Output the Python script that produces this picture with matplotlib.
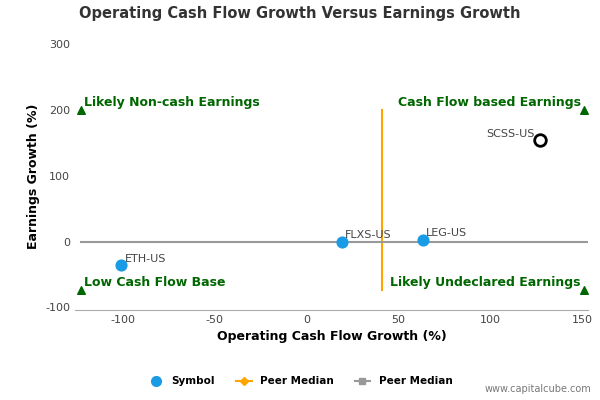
import matplotlib
matplotlib.use("Agg")
import matplotlib.pyplot as plt
from matplotlib.lines import Line2D

plt.rcParams["axes.unicode_minus"] = False

symbols = ["ETH-US", "FLXS-US", "LEG-US"]
cash_growth = [-101, 19, 63]
earn_growth = [-36, 0, 3]
focus_name = "SCSS-US"
focus_x, focus_y = 127, 154
peer_median_x = 41
peer_median_y = 0
y_lo, y_hi = -73, 200
x_lo, x_hi = -123, 151

fig = plt.figure(figsize=(6, 4), dpi=100)
ax = fig.add_axes([0.125, 0.225, 0.855, 0.668])

green = "#006600"
ax.plot([peer_median_x, peer_median_x], [y_lo, y_hi], color="#ffa500", lw=1.5, zorder=2)
ax.plot([x_lo, 153], [peer_median_y, peer_median_y], color="#999999", lw=1.5, zorder=2)
ax.scatter(cash_growth, earn_growth, s=60, color="#1a9be6", zorder=3)
ax.scatter([focus_x], [focus_y], s=70, facecolor="white", edgecolor="black", lw=2, zorder=3)
for n, x, y in zip(symbols, cash_growth, earn_growth):
    ax.text(x + 2, y + 5, n, fontsize=8, color="#444444")
ax.text(focus_x - 3, focus_y + 5, focus_name, fontsize=8, color="#444444", ha="right")

ax.scatter([x_lo, x_lo, x_hi, x_hi], [y_hi, y_lo, y_hi, y_lo], marker="^", color=green, s=30, zorder=3)
kw = dict(fontsize=9, color=green, fontweight="bold")
ax.text(x_lo + 2, y_hi + 6, "Likely Non-cash Earnings", ha="left", **kw)
ax.text(x_hi - 2, y_hi + 6, "Cash Flow based Earnings", ha="right", **kw)
ax.text(x_lo + 2, y_lo + 6, "Low Cash Flow Base", ha="left", **kw)
ax.text(x_hi - 2, y_lo + 6, "Likely Undeclared Earnings", ha="right", **kw)

ax.set_xlim(-126, 153)
ax.set_ylim(-104, 302)
ax.set_xticks([-100, -50, 0, 50, 100, 150])
ax.set_yticks([-100, 0, 100, 200, 300])
ax.tick_params(labelsize=8, colors="#444444", length=0)
for s in ["top", "right", "left"]:
    ax.spines[s].set_visible(False)
ax.spines["bottom"].set_color("#aaaaaa")
ax.set_xlabel("Operating Cash Flow Growth (%)", fontsize=9, fontweight="bold")
ax.set_ylabel("Earnings Growth (%)", fontsize=9, fontweight="bold")
fig.text(0.5, 0.955, "Operating Cash Flow Growth Versus Earnings Growth", ha="center",
         fontsize=10.5, fontweight="bold", color="#333333")

handles = [
    Line2D([], [], marker="o", color="#1a9be6", ls="none", markersize=7),
    Line2D([], [], marker="D", color="#ffa500", markersize=4, lw=1.5),
    Line2D([], [], marker="s", color="#999999", markersize=5, lw=1.5),
]
fig.legend(handles, ["Symbol", "Peer Median", "Peer Median"], loc="center", bbox_to_anchor=(0.5, 0.047),
           ncol=3, frameon=False, prop={"size": 7.5, "weight": "bold"}, handlelength=1.5)
fig.text(0.985, 0.02, "www.capitalcube.com", ha="right", fontsize=7, color="#777777")
fig.savefig("out.png", dpi=100)
